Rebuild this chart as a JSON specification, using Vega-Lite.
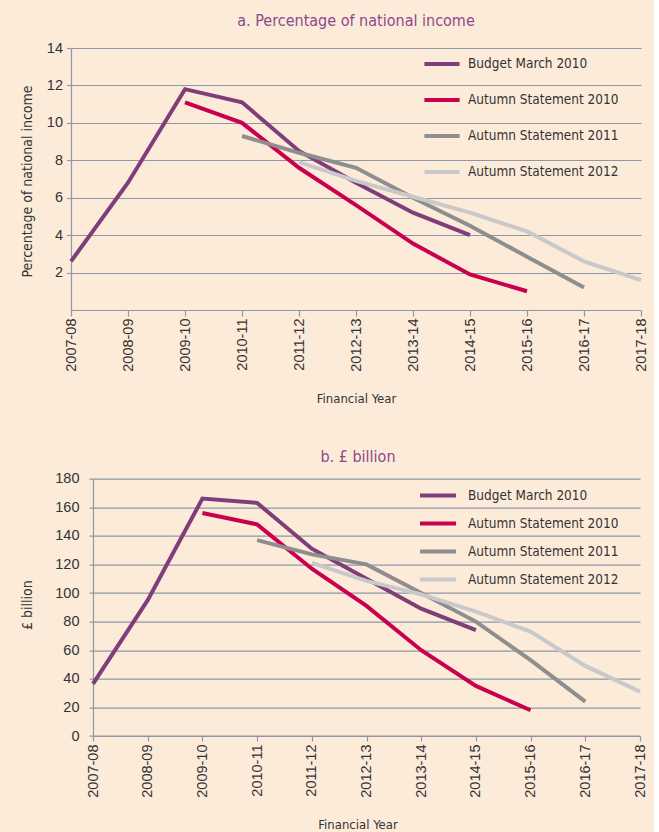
{
  "$schema": "https://vega.github.io/schema/vega-lite/v6.json",
  "background": "#FDEBDA",
  "padding": {"left": 19, "top": 13, "right": 5, "bottom": 2},
  "autosize": {"type": "pad"},
  "datasets": {
    "pct": [
      {"series": "Budget March 2010", "year": "2007-08", "value": 2.6},
      {"series": "Budget March 2010", "year": "2008-09", "value": 6.8},
      {"series": "Budget March 2010", "year": "2009-10", "value": 11.8},
      {"series": "Budget March 2010", "year": "2010-11", "value": 11.1},
      {"series": "Budget March 2010", "year": "2011-12", "value": 8.5},
      {"series": "Budget March 2010", "year": "2012-13", "value": 6.8},
      {"series": "Budget March 2010", "year": "2013-14", "value": 5.2},
      {"series": "Budget March 2010", "year": "2014-15", "value": 4.0},
      {"series": "Autumn Statement 2010", "year": "2009-10", "value": 11.1},
      {"series": "Autumn Statement 2010", "year": "2010-11", "value": 10.0},
      {"series": "Autumn Statement 2010", "year": "2011-12", "value": 7.6},
      {"series": "Autumn Statement 2010", "year": "2012-13", "value": 5.6},
      {"series": "Autumn Statement 2010", "year": "2013-14", "value": 3.55},
      {"series": "Autumn Statement 2010", "year": "2014-15", "value": 1.9},
      {"series": "Autumn Statement 2010", "year": "2015-16", "value": 1.0},
      {"series": "Autumn Statement 2011", "year": "2010-11", "value": 9.3},
      {"series": "Autumn Statement 2011", "year": "2011-12", "value": 8.4},
      {"series": "Autumn Statement 2011", "year": "2012-13", "value": 7.6},
      {"series": "Autumn Statement 2011", "year": "2013-14", "value": 6.0},
      {"series": "Autumn Statement 2011", "year": "2014-15", "value": 4.5},
      {"series": "Autumn Statement 2011", "year": "2015-16", "value": 2.85},
      {"series": "Autumn Statement 2011", "year": "2016-17", "value": 1.2},
      {"series": "Autumn Statement 2012", "year": "2011-12", "value": 7.9},
      {"series": "Autumn Statement 2012", "year": "2012-13", "value": 6.9},
      {"series": "Autumn Statement 2012", "year": "2013-14", "value": 6.05},
      {"series": "Autumn Statement 2012", "year": "2014-15", "value": 5.2},
      {"series": "Autumn Statement 2012", "year": "2015-16", "value": 4.2},
      {"series": "Autumn Statement 2012", "year": "2016-17", "value": 2.6},
      {"series": "Autumn Statement 2012", "year": "2017-18", "value": 1.6}
    ],
    "bn": [
      {"series": "Budget March 2010", "year": "2007-08", "value": 36.5},
      {"series": "Budget March 2010", "year": "2008-09", "value": 95},
      {"series": "Budget March 2010", "year": "2009-10", "value": 166},
      {"series": "Budget March 2010", "year": "2010-11", "value": 163},
      {"series": "Budget March 2010", "year": "2011-12", "value": 131},
      {"series": "Budget March 2010", "year": "2012-13", "value": 110},
      {"series": "Budget March 2010", "year": "2013-14", "value": 89},
      {"series": "Budget March 2010", "year": "2014-15", "value": 74},
      {"series": "Autumn Statement 2010", "year": "2009-10", "value": 156},
      {"series": "Autumn Statement 2010", "year": "2010-11", "value": 148},
      {"series": "Autumn Statement 2010", "year": "2011-12", "value": 117},
      {"series": "Autumn Statement 2010", "year": "2012-13", "value": 91},
      {"series": "Autumn Statement 2010", "year": "2013-14", "value": 60},
      {"series": "Autumn Statement 2010", "year": "2014-15", "value": 35},
      {"series": "Autumn Statement 2010", "year": "2015-16", "value": 18},
      {"series": "Autumn Statement 2011", "year": "2010-11", "value": 137},
      {"series": "Autumn Statement 2011", "year": "2011-12", "value": 127},
      {"series": "Autumn Statement 2011", "year": "2012-13", "value": 120},
      {"series": "Autumn Statement 2011", "year": "2013-14", "value": 100},
      {"series": "Autumn Statement 2011", "year": "2014-15", "value": 80},
      {"series": "Autumn Statement 2011", "year": "2015-16", "value": 53},
      {"series": "Autumn Statement 2011", "year": "2016-17", "value": 24},
      {"series": "Autumn Statement 2012", "year": "2011-12", "value": 121},
      {"series": "Autumn Statement 2012", "year": "2012-13", "value": 108.5},
      {"series": "Autumn Statement 2012", "year": "2013-14", "value": 99},
      {"series": "Autumn Statement 2012", "year": "2014-15", "value": 87},
      {"series": "Autumn Statement 2012", "year": "2015-16", "value": 73},
      {"series": "Autumn Statement 2012", "year": "2016-17", "value": 49},
      {"series": "Autumn Statement 2012", "year": "2017-18", "value": 31}
    ]
  },
  "config": {
    "view": {"stroke": null},
    "font": "DejaVu Sans Condensed, sans-serif",
    "title": {"font": "DejaVu Sans Condensed, sans-serif", "fontSize": 16, "fontWeight": "normal", "color": "#8C4A89", "baseline": "alphabetic", "anchor": "middle"},
    "axis": {
      "labelFont": "Liberation Sans, Arial, sans-serif",
      "labelFontSize": 14.5,
      "labelColor": "#333333",
      "titleFont": "DejaVu Sans Condensed, sans-serif",
      "titleFontWeight": "normal",
      "titleColor": "#333333",
      "domainColor": "#8D97A5",
      "domainWidth": 1.2,
      "tickColor": "#8D97A5",
      "tickWidth": 1.2,
      "gridColor": "#8D97A5",
      "gridWidth": 1.2
    },
    "legend": {
      "labelFont": "DejaVu Sans Condensed, sans-serif",
      "labelFontSize": 13.5,
      "labelColor": "#333333",
      "labelLimit": 0,
      "padding": 0
    }
  },
  "concat": [
    {
      "data": {"name": "pct"},
      "width": 570,
      "height": 262,
      "title": {"text": "a. Percentage of national income", "offset": 11},
      "mark": {"type": "line", "strokeWidth": 4},
      "encoding": {
        "x": {
          "field": "year", "type": "ordinal",
          "scale": {"type": "point", "padding": 0, "domain": ["2007-08","2008-09","2009-10","2010-11","2011-12","2012-13","2013-14","2014-15","2015-16","2016-17","2017-18"]},
          "axis": {"title": "Financial Year", "titleFontSize": 13, "titleY": 88.5, "titleBaseline": "middle", "labelAngle": -90, "tickSize": 6, "labelPadding": 2, "grid": false}
        },
        "y": {
          "field": "value", "type": "quantitative",
          "scale": {"domain": [0, 14], "nice": false},
          "axis": {"title": "Percentage of national income", "titleFontSize": 14, "titleX": -44, "titleY": 133, "titleBaseline": "middle", "titleAlign": "center", "titleAngle": -90, "values": [2,4,6,8,10,12,14], "tickSize": 4.5, "labelPadding": 4, "grid": true}
        },
        "color": {
          "field": "series", "type": "nominal",
          "scale": {"domain": ["Budget March 2010","Autumn Statement 2010","Autumn Statement 2011","Autumn Statement 2012"], "range": ["#7F3E7A","#C8004E","#8E8E8E","#C9C9C9"]},
          "legend": {"title": null, "orient": "none", "legendX": 353, "legendY": -2, "direction": "vertical", "symbolType": "M-1.1,0H1.1", "symbolSize": 1024, "symbolStrokeWidth": 4, "labelOffset": 8, "rowPadding": 10}
        }
      }
    },
    {
      "data": {"name": "bn"},
      "width": 570,
      "height": 257.4,
      "title": {"text": "b. £ billion", "offset": 5.5, "dx": 2},
      "mark": {"type": "line", "strokeWidth": 4},
      "encoding": {
        "x": {
          "field": "year", "type": "ordinal",
          "scale": {"type": "point", "padding": 0, "range": [22, 569], "domain": ["2007-08","2008-09","2009-10","2010-11","2011-12","2012-13","2013-14","2014-15","2015-16","2016-17","2017-18"]},
          "axis": {"title": "Financial Year", "titleFontSize": 13, "titleX": 286.5, "titleY": 88, "titleBaseline": "middle", "labelAngle": -90, "tickSize": 5, "labelPadding": 3, "grid": false}
        },
        "y": {
          "field": "value", "type": "quantitative",
          "scale": {"domain": [0, 180], "nice": false},
          "axis": {"title": "£ billion", "titleFontSize": 14, "titleX": -66, "titleY": 126, "titleBaseline": "middle", "titleAlign": "center", "titleAngle": -90, "values": [0,20,40,60,80,100,120,140,160,180], "tickSize": 4, "labelPadding": 10, "grid": true, "offset": -22}
        },
        "color": {
          "field": "series", "type": "nominal",
          "scale": {"domain": ["Budget March 2010","Autumn Statement 2010","Autumn Statement 2011","Autumn Statement 2012"], "range": ["#7F3E7A","#C8004E","#8E8E8E","#C9C9C9"]},
          "legend": {"title": null, "orient": "none", "legendX": 353, "legendY": 3, "direction": "vertical", "symbolType": "M-1.5,0H1.5", "symbolSize": 576, "symbolStrokeWidth": 4, "labelOffset": 16, "rowPadding": 6}
        }
      }
    }
  ],
  "columns": 1,
  "align": "none",
  "spacing": 42.6,
  "resolve": {"scale": {"color": "independent"}, "legend": {"color": "independent"}}
}
